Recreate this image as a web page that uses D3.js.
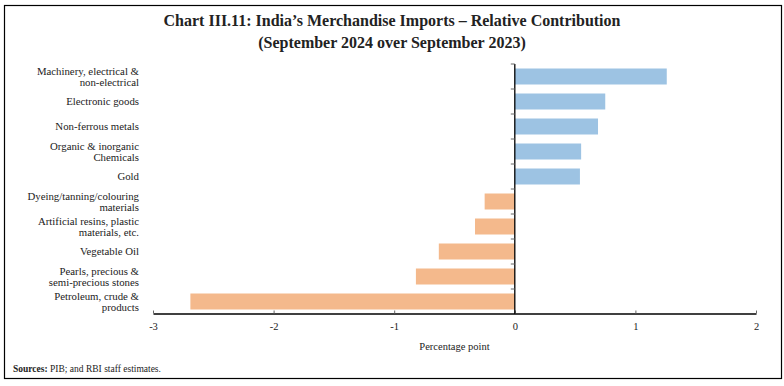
<!DOCTYPE html>
<html>
<head>
<meta charset="utf-8">
<script src="https://cdn.jsdelivr.net/npm/d3@7"></script>
<style>
  body { margin: 0; background: #fff; }
  text { font-family: "Liberation Serif", "DejaVu Serif", serif; fill: #222; }
</style>
</head>
<body>
<div id="chart"></div>
<script>
// categories, top to bottom (each entry is the label lines)
var categories = [
  ['Machinery, electrical &', 'non-electrical'],
  ['Electronic goods'],
  ['Non-ferrous metals'],
  ['Organic & inorganic', 'Chemicals'],
  ['Gold'],
  ['Dyeing/tanning/colouring', 'materials'],
  ['Artificial resins, plastic', 'materials, etc.'],
  ['Vegetable Oil'],
  ['Pearls, precious &', 'semi-precious stones'],
  ['Petroleum, crude &', 'products']
];
var values = [1.26, 0.75, 0.69, 0.55, 0.54, -0.25, -0.33, -0.63, -0.82, -2.69];
var xTicks = [-3, -2, -1, 0, 1, 2];

var W = 784, H = 386;
var svg = d3.select('#chart')
  .append('svg')
  .attr('width', W)
  .attr('height', H);

// frame
svg.append('rect')
  .attr('x', 4.5).attr('y', 5.5)
  .attr('width', 777).attr('height', 373)
  .style('fill', 'none')
  .style('stroke', '#000')
  .style('stroke-width', 1.2);

// title
svg.append('text')
  .attr('x', 392).attr('y', 26)
  .attr('text-anchor', 'middle')
  .style('font-size', '16px')
  .style('font-weight', 'bold')
  .text('Chart III.11: India\u2019s Merchandise Imports \u2013 Relative Contribution');
svg.append('text')
  .attr('x', 392).attr('y', 48)
  .attr('text-anchor', 'middle')
  .style('font-size', '16px')
  .style('font-weight', 'bold')
  .text('(September 2024 over September 2023)');

var x = d3.scaleLinear().domain([-3, 2]).range([153, 756]);
var y = d3.scaleBand()
  .domain(d3.range(categories.length))
  .range([64, 314])
  .paddingInner(0.36)
  .paddingOuter(0.18);

// bars
svg.append('g').selectAll('rect')
  .data(values)
  .enter().append('rect')
  .attr('x', function (d) { return x(Math.min(0, d)); })
  .attr('y', function (d, i) { return y(i); })
  .attr('width', function (d) { return Math.abs(x(d) - x(0)); })
  .attr('height', y.bandwidth())
  .style('fill', function (d) { return d >= 0 ? '#9dc3e3' : '#f4b98c'; });

// x axis
var xAxis = svg.append('g')
  .attr('transform', 'translate(0,313.5)')
  .call(d3.axisBottom(x)
    .tickValues(xTicks)
    .tickFormat(function (d) { return String(d); })
    .tickSize(-3).tickSizeOuter(0).tickPadding(9));
xAxis.select('.domain').style('stroke', '#000').style('stroke-width', 1.3);
xAxis.selectAll('.tick line').style('stroke', '#666');
xAxis.selectAll('.tick text')
  .style('font-family', '"Liberation Serif", serif')
  .style('font-size', '10.5px')
  .style('fill', '#222');

// zero line with small ticks at band edges
var yLine = svg.append('g');
yLine.append('line')
  .attr('x1', x(0)).attr('x2', x(0))
  .attr('y1', 64).attr('y2', 314)
  .style('stroke', '#000').style('stroke-width', 1.3);
yLine.selectAll('line.tk')
  .data(d3.range(categories.length))
  .enter().append('line')
  .attr('class', 'tk')
  .attr('x1', x(0) - 4).attr('x2', x(0))
  .attr('y1', function (i) { return 64 + i * 25; })
  .attr('y2', function (i) { return 64 + i * 25; })
  .style('stroke', '#666');

// category labels
var lab = svg.append('g').selectAll('text')
  .data(categories)
  .enter().append('text')
  .attr('text-anchor', 'end')
  .style('font-size', '10.8px')
  .attr('y', function (d, i) {
    var c = y(i) + y.bandwidth() / 2;
    return c + 3.5 - (d.length - 1) * 5.5;
  });
lab.selectAll('tspan')
  .data(function (d) { return d; })
  .enter().append('tspan')
  .attr('x', 139)
  .attr('dy', function (d, j) { return j === 0 ? 0 : 11; })
  .text(function (d) { return d; });

// axis title
svg.append('text')
  .attr('x', (x(-3) + x(2)) / 2).attr('y', 350)
  .attr('text-anchor', 'middle')
  .style('font-size', '10.5px')
  .text('Percentage point');

// source note
var src = svg.append('text')
  .attr('x', 13).attr('y', 372)
  .style('font-size', '9.5px');
src.append('tspan').style('font-weight', 'bold').text('Sources:');
src.append('tspan').text(' PIB; and RBI staff estimates.');
</script>
</body>
</html>
